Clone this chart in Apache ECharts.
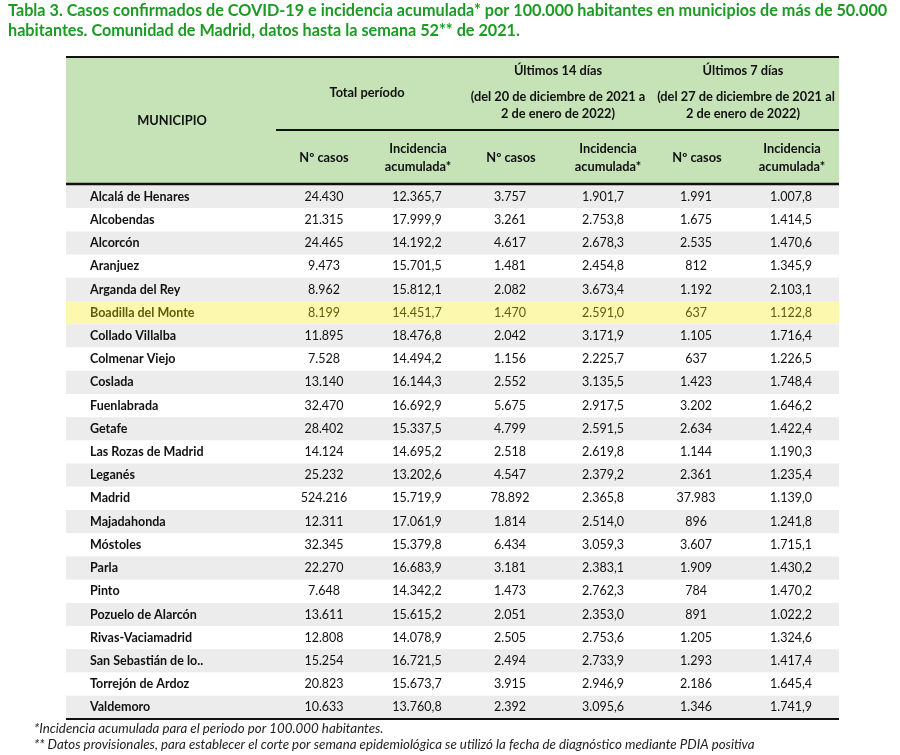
<!DOCTYPE html>
<html><head><meta charset="utf-8">
<script src="https://cdn.jsdelivr.net/npm/echarts@6/dist/echarts.min.js"></script>
<style>html,body{margin:0;padding:0;background:#fff}#c{width:900px;height:755px}</style>
</head><body><div id="c"></div>
<script>
const municipios = ["Alcalá de Henares","Alcobendas","Alcorcón","Aranjuez","Arganda del Rey","Boadilla del Monte","Collado Villalba","Colmenar Viejo","Coslada","Fuenlabrada","Getafe","Las Rozas de Madrid","Leganés","Madrid","Majadahonda","Móstoles","Parla","Pinto","Pozuelo de Alarcón","Rivas-Vaciamadrid","San Sebastián de lo..","Torrejón de Ardoz","Valdemoro"];
const casosTotal = [24430,21315,24465,9473,8962,8199,11895,7528,13140,32470,28402,14124,25232,524216,12311,32345,22270,7648,13611,12808,15254,20823,10633];
const iaTotal = [12365.7,17999.9,14192.2,15701.5,15812.1,14451.7,18476.8,14494.2,16144.3,16692.9,15337.5,14695.2,13202.6,15719.9,17061.9,15379.8,16683.9,14342.2,15615.2,14078.9,16721.5,15673.7,13760.8];
const casos14 = [3757,3261,4617,1481,2082,1470,2042,1156,2552,5675,4799,2518,4547,78892,1814,6434,3181,1473,2051,2505,2494,3915,2392];
const ia14 = [1901.7,2753.8,2678.3,2454.8,3673.4,2591.0,3171.9,2225.7,3135.5,2917.5,2591.5,2619.8,2379.2,2365.8,2514.0,3059.3,2383.1,2762.3,2353.0,2753.6,2733.9,2946.9,3095.6];
const casos7 = [1991,1675,2535,812,1192,637,1105,637,1423,3202,2634,1144,2361,37983,896,3607,1909,784,891,1205,1293,2186,1346];
const ia7 = [1007.8,1414.5,1470.6,1345.9,2103.1,1122.8,1716.4,1226.5,1748.4,1646.2,1422.4,1190.3,1235.4,1139.0,1241.8,1715.1,1430.2,1470.2,1022.2,1324.6,1417.4,1645.4,1741.9];
const highlightRow = "Boadilla del Monte";

const title1 = "Tabla 3. Casos confirmados de COVID-19 e incidencia acumulada* por 100.000 habitantes en municipios de más de 50.000";
const title2 = "habitantes. Comunidad de Madrid, datos hasta la semana 52** de 2021.";
const note1 = "*Incidencia acumulada para el periodo por 100.000 habitantes.";
const note2 = "** Datos provisionales, para establecer el corte por semana epidemiológica se utilizó la fecha de diagnóstico mediante PDIA positiva";

function fmt(v, dec) {
  const s = v.toFixed(dec);
  const parts = s.split('.');
  const ip = parts[0].replace(/\B(?=(\d{3})+(?!\d))/g, '.');
  return parts.length > 1 ? ip + ',' + parts[1] : ip;
}

const FONT = 'Lato, "Noto Sans", sans-serif';
const TL = 66, TR = 839, TW = TR - TL;
const TOP = 57, HEAD_B = 184, BOT = 719;
const nameX = 24;
const colX = [258, 351, 444, 537, 630, 725];
const GREEN_H = '#c5e3b7';

const rows = municipios.map((m, i) => [i, m, fmt(casosTotal[i],0), fmt(iaTotal[i],1), fmt(casos14[i],0), fmt(ia14[i],1), fmt(casos7[i],0), fmt(ia7[i],1)]);

function hText(x, y, t) {
  return {type:'text', x:x, y:y, style:{text:t, font:'bold 12.8px ' + FONT, fill:'#111', textAlign:'center', textVerticalAlign:'middle'}};
}

const chart = echarts.init(document.getElementById('c'), null, {renderer:'canvas'});
chart.setOption({
  animation:false,
  backgroundColor:'#ffffff',
  grid:{left:TL, top:HEAD_B+1, width:TW, height:BOT-HEAD_B-1},
  xAxis:{type:'value', min:0, max:TW, show:false},
  yAxis:{type:'category', data:municipios, inverse:true, show:false},
  series:[{
    type:'custom',
    data:rows,
    renderItem:function(params, api){
      const i = api.value(0);
      const p0 = api.coord([0, i]);
      const p1 = api.coord([TW, i]);
      const h = api.size([0,1])[1];
      const name = municipios[i];
      const hl = name === highlightRow;
      const fill = hl ? '#fcf8ad' : (i % 2 === 0 ? '#ececec' : '#ffffff');
      const tc = hl ? '#5f5d0c' : '#111';
      const children = [{type:'rect', shape:{x:p0[0], y:p0[1]-h/2, width:p1[0]-p0[0], height:h}, style:{fill:fill}}];
      const np = api.coord([nameX, i]);
      children.push({type:'text', x:np[0], y:np[1], style:{text:name, font:'bold 12.5px '+FONT, fill:tc, textAlign:'left', textVerticalAlign:'middle'}});
      for (let k = 0; k < 6; k++) {
        const cp = api.coord([colX[k], i]);
        children.push({type:'text', x:cp[0], y:cp[1], style:{text:rows[i][k+2], font:'12.5px '+FONT, fill:tc, textAlign:'center', textVerticalAlign:'middle'}});
      }
      return {type:'group', children:children};
    }
  }],
  graphic:[
    {type:'text', left:8, top:3, style:{text:title1, font:'bold 16.2px '+FONT, fill:'#1c9b24'}},
    {type:'text', left:8, top:23, style:{text:title2, font:'bold 16.2px '+FONT, fill:'#1c9b24'}},
    {type:'rect', shape:{x:TL, y:TOP, width:TW, height:HEAD_B-TOP}, style:{fill:GREEN_H}, z:-1},
    {type:'line', shape:{x1:TL, y1:TOP, x2:TR, y2:TOP}, style:{stroke:'#111', lineWidth:2}},
    {type:'line', shape:{x1:276, y1:130, x2:TR, y2:130}, style:{stroke:'#111', lineWidth:2}},
    {type:'line', shape:{x1:TL, y1:HEAD_B, x2:TR, y2:HEAD_B}, style:{stroke:'#111', lineWidth:2.5}, z:10},
    {type:'line', shape:{x1:TL, y1:BOT, x2:TR, y2:BOT}, style:{stroke:'#111', lineWidth:2}, z:10},
    hText(172,121,'MUNICIPIO'),
    hText(367,93,'Total período'),
    hText(324,158,'Nº casos'),
    hText(418,149,'Incidencia'), hText(418,167,'acumulada*'),
    hText(558,71,'Últimos 14 días'),
    hText(558,97,'(del 20 de diciembre de 2021 a'),
    hText(558,114,'2 de enero de 2022)'),
    hText(511,158,'Nº casos'),
    hText(608,149,'Incidencia'), hText(608,167,'acumulada*'),
    hText(743,71,'Últimos 7 días'),
    hText(746,97,'(del 27 de diciembre de 2021 al'),
    hText(743,114,'2 de enero de 2022)'),
    hText(697,158,'Nº casos'),
    hText(792,149,'Incidencia'), hText(792,167,'acumulada*'),
    {type:'text', left:34, top:722, style:{text:note1, font:'italic 13.3px '+FONT, fill:'#222'}},
    {type:'text', left:34, top:738, style:{text:note2, font:'italic 13.3px '+FONT, fill:'#222'}}
  ]
});
</script>
</body></html>
